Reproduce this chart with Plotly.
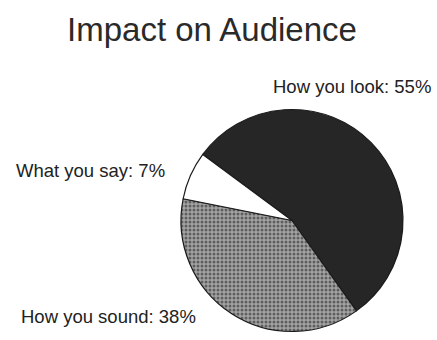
import plotly.graph_objects as go

labels = ["How you look", "How you sound", "What you say"]
values = [55, 38, 7]
colors = ["#262626", "#8c8c8c", "#ffffff"]
label_texts = ["How you look: 55%", "How you sound: 38%", "What you say: 7%"]

W, H = 437, 340

fig = go.Figure()
fig.add_trace(go.Pie(
    labels=labels,
    values=values,
    sort=False,
    direction="clockwise",
    rotation=-53.5,
    textinfo="none",
    hoverinfo="label+percent",
    showlegend=False,
    marker=dict(
        colors=colors,
        line=dict(color="#1a1a1a", width=1.2),
        pattern=dict(shape=["", ".", ""], fgcolor="#5e5e5e", bgcolor="#a4a4a4", size=4, solidity=0.45),
    ),
    domain=dict(x=[181 / W, 403 / W], y=[1 - 333 / H, 1 - 108 / H]),
))

label_pos = [(352, 86), (108, 316), (90, 170)]
for txt, (px, py) in zip(label_texts, label_pos):
    fig.add_annotation(
        text=txt, x=px / W, y=1 - py / H, xref="paper", yref="paper",
        xanchor="center", yanchor="middle", showarrow=False,
        font=dict(family="Liberation Sans, Arial", size=18.5, color="#222222"),
    )

fig.update_layout(
    width=W, height=H,
    margin=dict(l=0, r=0, t=0, b=0),
    paper_bgcolor="white",
    plot_bgcolor="white",
    title=dict(
        text="Impact on Audience",
        x=212 / W, y=1 - 29 / H, xref="container", yref="container",
        xanchor="center", yanchor="middle",
        font=dict(family="Liberation Sans, Arial", size=33, color="#2a2a2a"),
    ),
)

fig.write_html("out.html")
